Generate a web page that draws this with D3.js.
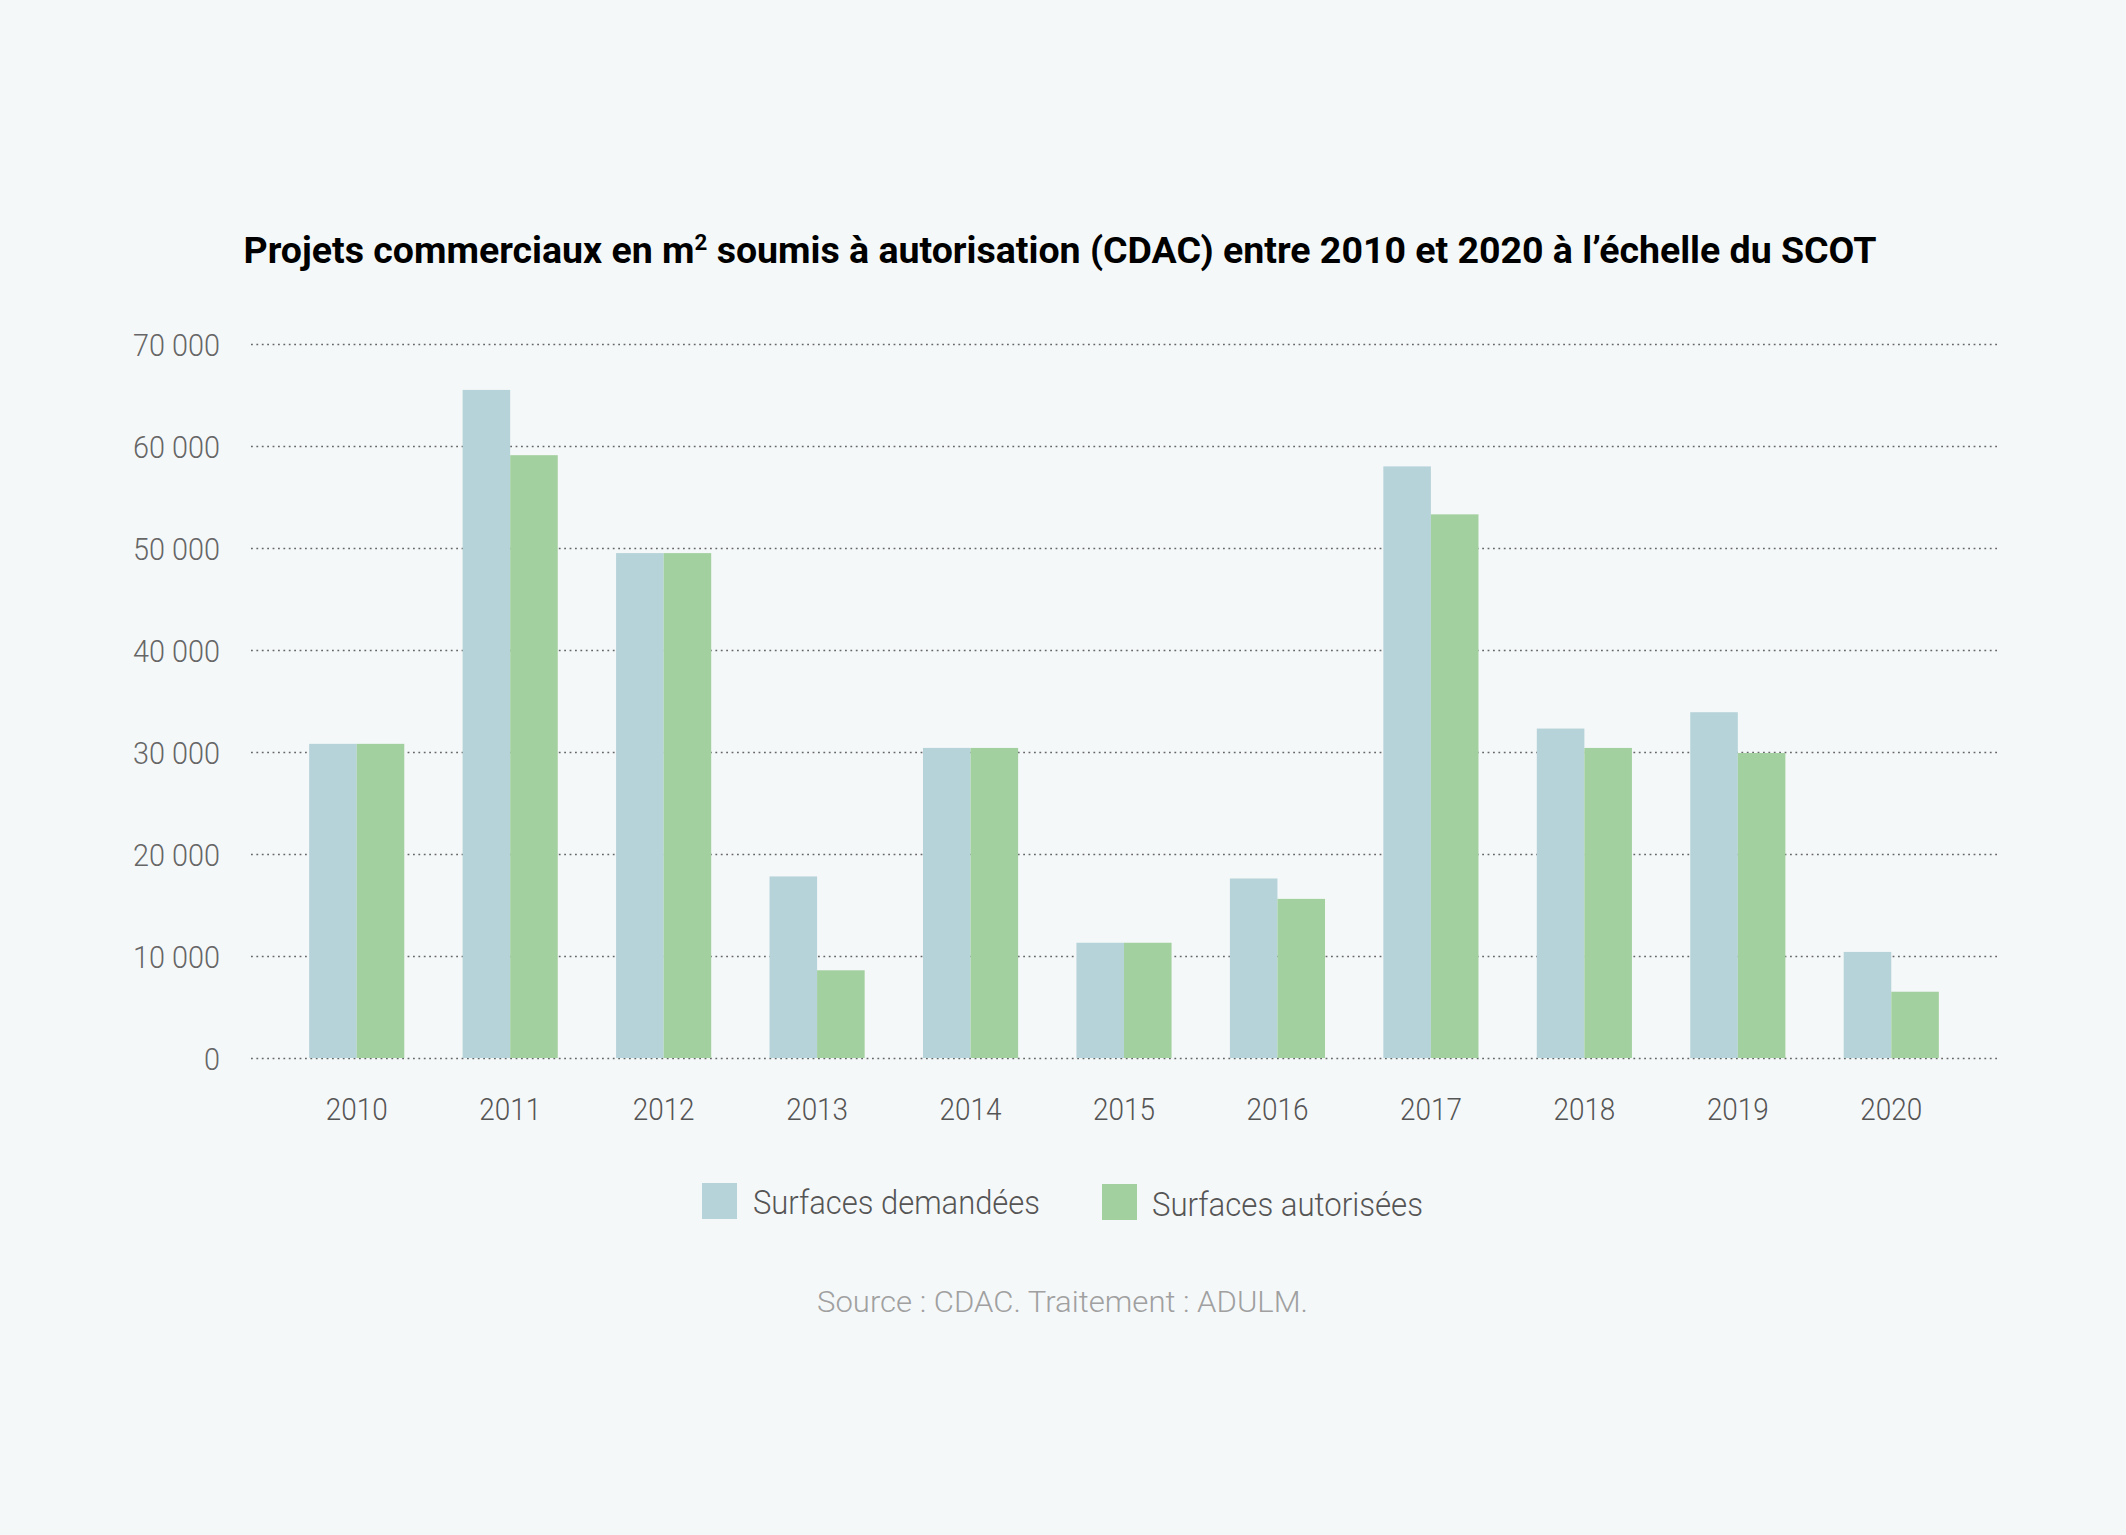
<!DOCTYPE html>
<html>
<head>
<meta charset="utf-8">
<script src="https://cdn.jsdelivr.net/npm/d3@7"></script>
<style>
  html, body { margin: 0; padding: 0; background: #f5f8f9; }
  svg { display: block; }
  text { font-family: Roboto, "Noto Sans", sans-serif; }
</style>
</head>
<body>
<svg id="chart" width="2126" height="1535"></svg>
<script>
// ---- data ----
const years = ["2010","2011","2012","2013","2014","2015","2016","2017","2018","2019","2020"];
const seriesNames = ["Surfaces demandées", "Surfaces autorisées"];
const demandees = [30800, 65500, 49500, 17800, 30400, 11300, 17600, 58000, 32300, 33900, 10400];
const autorisees = [30800, 59100, 49500, 8600, 30400, 11300, 15600, 53300, 30400, 29900, 6500];
const yTicks = [0, 10000, 20000, 30000, 40000, 50000, 60000, 70000];
const titleText = "Projets commerciaux en m";
const titleRest = " soumis à autorisation (CDAC) entre 2010 et 2020 à l’échelle du SCOT";
const sourceText = "Source : CDAC. Traitement : ADULM.";

// ---- layout / style ----
const W = 2126, H = 1535;
const colors = ["#b6d3d9", "#a3d09f"];
const gridLeft = 251, gridRight = 2000;
const yTop = 344, yBottom = 1058;

const svg = d3.select("#chart");
svg.append("rect").attr("width", W).attr("height", H).attr("fill", "#f5f8f9");

const x0 = d3.scaleBand().domain(years).range([280, 1968]).paddingInner(0.38).paddingOuter(0.19);
const x1 = d3.scaleBand().domain(seriesNames).range([0, x0.bandwidth()]);
const y = d3.scaleLinear().domain([0, 70000]).range([yBottom, yTop]);

function fit(sel, target) {
  sel.each(function() {
    const len = this.getComputedTextLength();
    if (len > 0) d3.select(this).attr("textLength", target).attr("lengthAdjust", "spacingAndGlyphs");
  });
}

// y axis with dotted gridlines
const fmt = v => v === 0 ? "0" : d3.format(",")(v).replace(/,/g, " ");
const yAxis = d3.axisLeft(y).tickValues(yTicks).tickFormat(fmt)
  .tickSize(-(gridRight - gridLeft)).tickPadding(31);
const gy = svg.append("g").attr("transform", `translate(${gridLeft},0)`).call(yAxis);
gy.select(".domain").remove();
gy.selectAll(".tick line").attr("stroke", "#666").attr("stroke-width", 1.7)
  .attr("stroke-dasharray", "1.8,3.6");
gy.selectAll(".tick text").attr("fill", "#666").attr("font-size", 32).attr("font-weight", 300)
  .attr("dy", "0.36em").attr("font-family", "Roboto");
// condense tick labels to match the narrow face
gy.selectAll(".tick text").each(function() {
  const len = this.getComputedTextLength();
  d3.select(this).attr("textLength", len * 0.9).attr("lengthAdjust", "spacingAndGlyphs");
});

// bars
const groups = svg.append("g").selectAll("g").data(years).join("g")
  .attr("transform", d => `translate(${x0(d)},0)`);
groups.selectAll("rect")
  .data((d, i) => [
    { key: seriesNames[0], value: demandees[i] },
    { key: seriesNames[1], value: autorisees[i] }
  ])
  .join("rect")
  .attr("x", d => x1(d.key))
  .attr("y", d => y(d.value))
  .attr("width", x1.bandwidth())
  .attr("height", d => y(0) - y(d.value))
  .attr("fill", (d, i) => colors[i]);

// x axis labels
const xAxis = d3.axisBottom(x0).tickSize(0).tickPadding(0);
const gx = svg.append("g").attr("transform", `translate(0,${yBottom})`).call(xAxis);
gx.select(".domain").remove();
gx.selectAll(".tick text").attr("fill", "#555").attr("font-size", 31).attr("font-weight", 300)
  .attr("y", 62).attr("dy", 0).attr("font-family", "Roboto");
gx.selectAll(".tick text").each(function() {
  const len = this.getComputedTextLength();
  d3.select(this).attr("textLength", len * 0.9).attr("lengthAdjust", "spacingAndGlyphs");
});

// title
const title = svg.append("text").attr("x", 1060).attr("y", 263).attr("text-anchor", "middle")
  .attr("font-size", 37).attr("font-weight", 700).attr("fill", "#000");
title.append("tspan").text(titleText);
title.append("tspan").attr("font-size", 22).attr("dy", -13).text("2");
title.append("tspan").attr("dy", 13).text(titleRest);
fit(title, 1633);

// legend
const legendItems = [
  { name: seriesNames[0], color: colors[0], sx: 702, sy: 1183, tx: 753, ty: 1214, w: 287 },
  { name: seriesNames[1], color: colors[1], sx: 1102, sy: 1184, tx: 1152, ty: 1215.5, w: 271 }
];
const lg = svg.append("g");
legendItems.forEach(it => {
  lg.append("rect").attr("x", it.sx).attr("y", it.sy).attr("width", 35).attr("height", 36).attr("fill", it.color);
  const t = lg.append("text").attr("x", it.tx).attr("y", it.ty).attr("font-size", 34)
    .attr("font-weight", 300).attr("fill", "#555").text(it.name);
  fit(t, it.w);
});

// source
const src = svg.append("text").attr("x", 1062.5).attr("y", 1312).attr("text-anchor", "middle")
  .attr("font-size", 30).attr("font-weight", 300).attr("fill", "#a0a0a0").text(sourceText);
fit(src, 491);
</script>
</body>
</html>
